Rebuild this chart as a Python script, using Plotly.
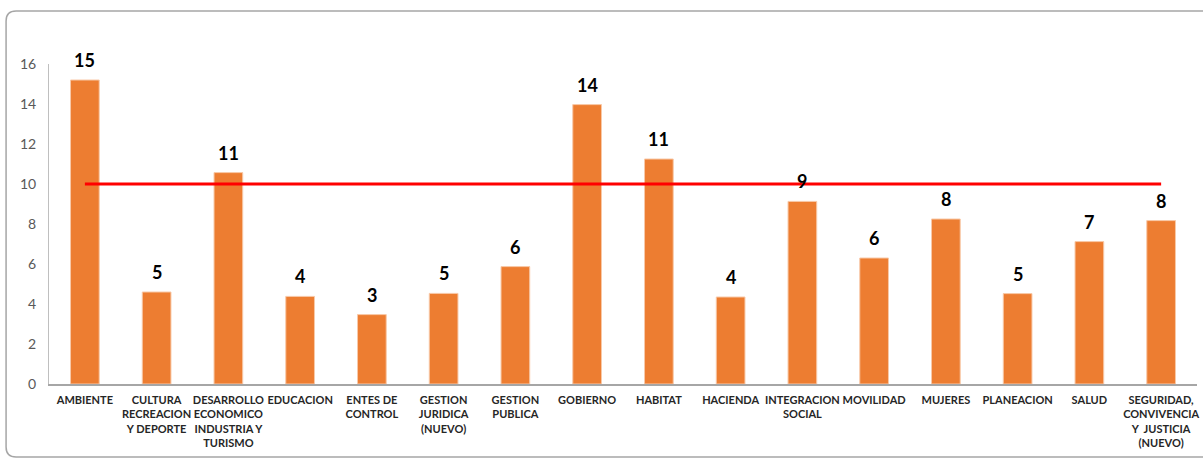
import plotly.graph_objects as go

# Categories (sector names) and their values
categorias = [
    "AMBIENTE",
    "CULTURA<br>RECREACION<br>Y DEPORTE",
    "DESARROLLO<br>ECONOMICO<br>INDUSTRIA Y<br>TURISMO",
    "EDUCACION",
    "ENTES DE<br>CONTROL",
    "GESTION<br>JURIDICA<br>(NUEVO)",
    "GESTION<br>PUBLICA",
    "GOBIERNO",
    "HABITAT",
    "HACIENDA",
    "INTEGRACION<br>SOCIAL",
    "MOVILIDAD",
    "MUJERES",
    "PLANEACION",
    "SALUD",
    "SEGURIDAD,<br>CONVIVENCIA<br>Y  JUSTICIA<br>(NUEVO)",
]
valores = [15.2, 4.6, 10.57, 4.38, 3.47, 4.53, 5.87, 13.97, 11.25, 4.35,
           9.13, 6.3, 8.25, 4.52, 7.12, 8.17]
meta = [10] * len(categorias)
y_ticks = [0, 2, 4, 6, 8, 10, 12, 14, 16]

W, H = 1203, 459
ML, MR, MT, MB = 49, 4, 64, 75
pw, ph = W - ML - MR, H - MT - MB

fig = go.Figure()
fig.add_trace(go.Bar(
    x=categorias, y=valores,
    marker=dict(color="#ED7D31", line=dict(color="#F8C9A8", width=1)),
    showlegend=False,
))
fig.add_trace(go.Scatter(
    x=categorias, y=meta, mode="lines",
    line=dict(color="#FF0000", width=3), showlegend=False,
))

# Value labels above each bar (rounded to whole numbers)
annotations = [
    dict(x=c, y=v, text=f"{v:.0f}", showarrow=False,
         xref="x", yref="y", yanchor="bottom", yshift=7,
         font=dict(family="Lato", size=18, color="#000000", weight="bold"))
    for c, v in zip(categorias, valores)
]


# Rounded frame around the chart, expressed in paper coordinates
def px_x(p):
    return (p - ML) / pw


def px_y(p):
    return (H - MB - p) / ph


x0, x1, y0, y1, r = 6, 1230, 11, 457, 10
rx, ry = r / pw, r / ph
X0, X1, Y0, Y1 = px_x(x0), px_x(x1), px_y(y0), px_y(y1)
path = (f"M {X0 + rx} {Y0} L {X1 - rx} {Y0} Q {X1} {Y0} {X1} {Y0 - ry} "
        f"L {X1} {Y1 + ry} Q {X1} {Y1} {X1 - rx} {Y1} "
        f"L {X0 + rx} {Y1} Q {X0} {Y1} {X0} {Y1 + ry} "
        f"L {X0} {Y0 - ry} Q {X0} {Y0} {X0 + rx} {Y0} Z")

fig.update_layout(
    width=W, height=H,
    margin=dict(l=ML, r=MR, t=MT, b=MB),
    paper_bgcolor="white", plot_bgcolor="white",
    bargap=0.6,
    annotations=annotations,
    shapes=[dict(type="path", path=path, xref="paper", yref="paper",
                 line=dict(color="#A6A6A6", width=1.5), layer="below")],
)
fig.update_xaxes(
    showline=True, linecolor="#A6A6A6", linewidth=1.5,
    ticks="", showgrid=False,
    tickfont=dict(family="Lato", size=11, color="#262626", weight="bold"),
    tickangle=0, ticklabelstandoff=5,
)
fig.update_yaxes(
    range=[0, 16], tickvals=y_ticks,
    showline=True, linecolor="#BFBFBF", linewidth=1,
    showgrid=False, zeroline=False, ticks="",
    tickfont=dict(family="Lato", size=14, color="#595959"),
    ticklabelstandoff=9,
)

fig.write_html("out.html")
